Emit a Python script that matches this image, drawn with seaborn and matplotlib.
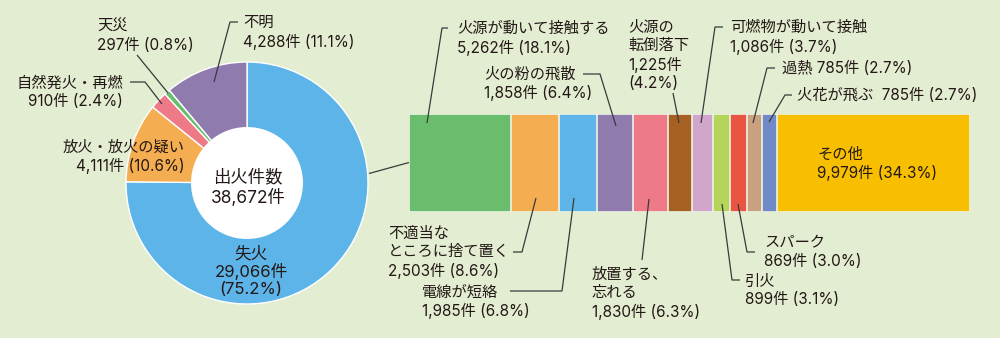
import numpy as np
import matplotlib
matplotlib.use("Agg")
import matplotlib.pyplot as plt
from matplotlib.lines import Line2D
from matplotlib.patches import Circle, Rectangle
import seaborn as sns

# ---------------- data ----------------
pie_labels = ["失火", "放火・放火の疑い", "自然発火・再燃", "天災", "不明"]
pie_counts = [29066, 4111, 910, 297, 4288]
pie_pcts = [75.2, 10.6, 2.4, 0.8, 11.1]
total_label = "出火件数"
total_fires = 38672

bar_labels = ["火源が動いて接触する", "不適当な\nところに捨て置く", "電線が短絡",
              "火の粉の飛散", "放置する、\n忘れる", "火源の\n転倒落下",
              "可燃物が動いて接触", "引火", "スパーク", "過熱", "火花が飛ぶ ", "その他"]
bar_counts = [5262, 2503, 1985, 1858, 1830, 1225, 1086, 899, 869, 785, 785, 9979]
bar_pcts = [18.1, 8.6, 6.8, 6.4, 6.3, 4.2, 3.7, 3.1, 3.0, 2.7, 2.7, 34.3]

# ---------------- style ----------------
sns.set_style("white")
plt.rcParams["font.family"] = ["Inter", "Noto Sans CJK JP", "DejaVu Sans"]

BG = "#E2EDD2"
TXT = "#231815"
LINE = "#3a3a3a"
pie_colors = ["#5DB4E8", "#F5AD52", "#EE7987", "#6BBD6E", "#8F7BAE"]
bar_colors = ["#6BBD6E", "#F5AD52", "#5DB4E8", "#8F7BAE", "#EE7987", "#A66022",
              "#D0A6CD", "#B5D55A", "#EA5443", "#C9A080", "#6F8AC6", "#F8BF00"]

W, H = 1000, 341
fig = plt.figure(figsize=(W / 100, H / 100), dpi=100, facecolor=BG)


def fx(x):
    return x / W


def fy(y):
    return 1 - y / H


FS = 11
LS = 1.28
ML_SHIFT = 2.0  # vertical correction for multi-line blocks

# white strip at very bottom
fig.add_artist(Rectangle((0, 0), 1, 3 / H, transform=fig.transFigure,
                         facecolor="white", edgecolor="none"))

# ---------------- donut ----------------
cx, cy, R, r_in = 247, 183, 121, 56
axp = fig.add_axes([fx(cx - R), fy(cy + R), 2 * R / W, 2 * R / H])
axp.pie(pie_counts, colors=pie_colors, startangle=90, counterclock=False, radius=1,
        wedgeprops=dict(edgecolor="white", linewidth=1))
axp.add_patch(Circle((0, 0), r_in / R, facecolor="white", edgecolor="none", zorder=5))
axp.set_xlim(-1, 1)
axp.set_ylim(-1, 1)
axp.set_aspect("auto")
axp.axis("off")


def ftxt(x, y, s, ha="left", ma=None, color=TXT, fs=FS, ls=LS):
    if "\n" in s:
        y = y + ML_SHIFT
    fig.text(fx(x), fy(y), s, ha=ha, va="center", multialignment=ma or ha,
             fontsize=fs, color=color, linespacing=ls)


def fline(pts):
    xs = [fx(p[0]) for p in pts]
    ys = [fy(p[1]) for p in pts]
    fig.add_artist(Line2D(xs, ys, transform=fig.transFigure, color=LINE, lw=0.9,
                          solid_capstyle="butt", solid_joinstyle="miter"))


def cnt(c, p, sep=" "):
    return f"{c:,}件{sep}({p}%)"


# center text
ftxt(cx + 1, 186, f"{total_label}\n{total_fires:,}件", ha="center", fs=12.5, ls=1.2)

# pie labels: (x, y, ha, sep label/count, sep count/pct, size, linespacing)
pie_layout = [
    (251, 269.5, "center", "\n", "\n", 12, 1.15),
    (185, 155, "right", "\n", " ", FS, 1.25),
    (123, 90.5, "right", "\n", " ", FS, 1.28),
    (97, 33.5, "left", "\n", " ", FS, 1.35),
    (243, 30.5, "left", "\n", " ", FS, 1.28),
]
for lab, c, p, (x, y, ha, s1, s2, fs, ls) in zip(pie_labels, pie_counts, pie_pcts, pie_layout):
    ftxt(x, y, lab + s1 + cnt(c, p, s2), ha=ha, fs=fs, ls=ls)

fline([(137, 55), (168, 93)])
fline([(130, 82), (145, 82), (162, 104)])
fline([(238, 22), (230, 22), (214, 82)])
fline([(369, 173.5), (409, 162.5)])

# ---------------- stacked bar ----------------
total_bar = sum(bar_counts)
bx0, bx1, by0, by1 = 409, 970, 114, 212
axb = fig.add_axes([fx(bx0), fy(by1), (bx1 - bx0) / W, (by1 - by0) / H])
cum = np.cumsum(bar_counts)
for i in reversed(range(len(bar_counts))):
    sns.barplot(x=[cum[i]], y=["all"], orient="h", color=bar_colors[i], saturation=1,
                width=1, edgecolor="#EEF4E6", linewidth=1.2, ax=axb)
axb.set_xlim(0, total_bar)
axb.set_ylim(0.5, -0.5)
axb.axis("off")

# bar labels: (x, y, sep label/count, sep count/pct)
bar_layout = [
    (457, 36.5, "\n", " "),
    (388, 250.5, "\n", " "),
    (422, 300, "\n", " "),
    (484, 82, "\n", " "),
    (592, 291.5, "\n", " "),
    (628, 53.5, "\n", "\n"),
    (730, 35.5, "\n", " "),
    (745, 288.5, "\n", " "),
    (764, 250, "\n", " "),
    (782, 68, " ", " "),
    (797, 95, " ", " "),
    (817, 162, "\n", " "),
]
for lab, c, p, (x, y, s1, s2) in zip(bar_labels, bar_counts, bar_pcts, bar_layout):
    ftxt(x, y, lab + s1 + cnt(c, p, s2), ha="left", ls=LS)

bar_leaders = [
    [(448, 28), (442, 28), (427, 123)],
    [(513, 252), (522, 252), (536, 198)],
    [(510, 291), (562, 291), (574, 198)],
    [(583, 74), (600, 74), (616, 126)],
    [(642, 260), (649, 199)],
    [(673, 93), (679, 123)],
    [(723, 27), (715, 27), (701, 123)],
    [(740, 280), (732, 280), (722, 204)],
    [(755, 252), (747, 252), (738, 204)],
    [(775, 68), (767, 68), (753, 123)],
    [(792, 95), (785, 95), (769, 122)],
]
for pts in bar_leaders:
    fline(pts)

fig.savefig("out.png", dpi=100, facecolor=BG)
